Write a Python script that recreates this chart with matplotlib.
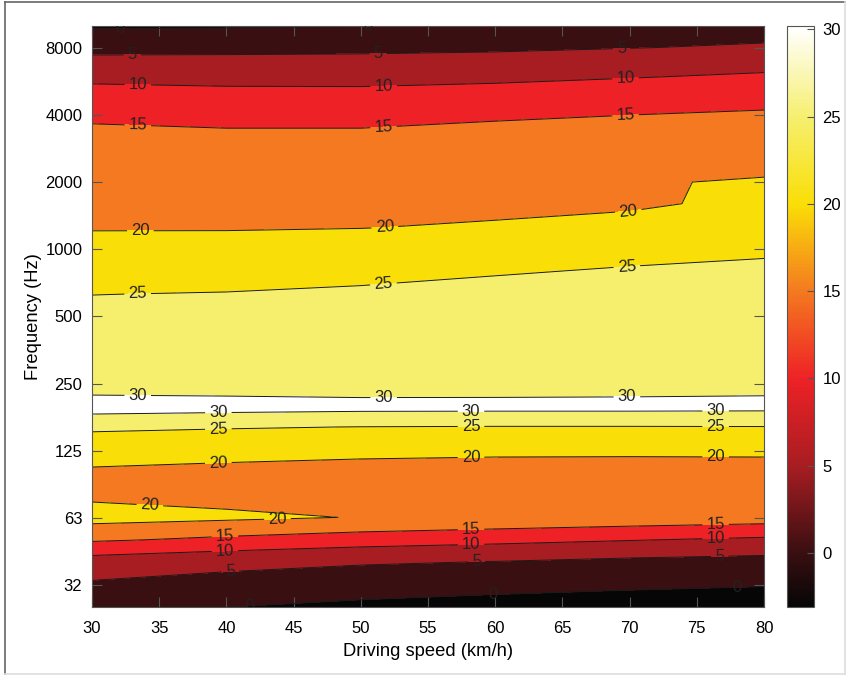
import numpy as np
import matplotlib
matplotlib.use("Agg")
import matplotlib.pyplot as plt
from matplotlib.colors import LinearSegmentedColormap, Normalize
from matplotlib.cm import ScalarMappable
from matplotlib.lines import Line2D

plt.rcParams['font.family'] = ['Liberation Sans', 'DejaVu Sans']

# driving speed (km/h) columns
speeds = [30, 40, 50, 60, 70, 80]
# 1/3-octave band centres (Hz), top to bottom
freqs = [10000, 8000, 6300, 5000, 4000, 3150, 2500, 2000, 1600, 1250, 1000,
         800, 630, 500, 400, 315, 250, 200, 160, 125, 100, 80, 63, 50, 40,
         31.5, 25]

# level (dB) per band, one row per band, one value per speed
z_10000 = [-0.65, -0.43, -0.1, 0.6, 1.2, 3.38]
z_8000 = [4.03, 3.79, 4.04, 4.29, 4.91, 5.4]
z_6300 = [6.85, 7.5, 7.32, 7.8, 8.0, 9.82]
z_5000 = [12.0, 11.0, 11.0, 11.56, 13.6, 11.86]
z_4000 = [14.08, 13.47, 13.47, 14.2, 14.97, 15.8]
z_3150 = [16.3, 16.0, 16.0, 16.9, 17.0, 17.2]
z_2500 = [17.5, 16.8, 16.9, 17.3, 18.4, 18.47]
z_2000 = [18.3, 17.7, 17.9, 17.9, 19.65, 20.4]
z_1600 = [19.0, 18.6, 18.9, 18.48, 19.17, 21.3]
z_1250 = [19.6, 19.5, 19.9, 20.6, 21.6, 22.0]
z_1000 = [22.08, 22.8, 22.5, 22.8, 23.0, 23.5]
z_800 = [23.5, 23.2, 24.0, 24.5, 25.48, 26.82]
z_630 = [24.95, 25.16, 25.51, 26.66, 26.2, 27.0]
z_500 = [25.97, 25.5, 25.8, 26.5, 26.6, 27.2]
z_400 = [26.2, 25.9, 25.9, 26.3, 26.6, 27.3]
z_315 = [26.3, 26.1, 25.9, 26.1, 26.4, 27.3]
z_250 = [26.1, 26.13, 25.67, 25.89, 26.29, 27.25]
z_200 = [33.15, 32.59, 32.17, 32.13, 32.13, 31.95]
z_160 = [25.8, 25.3, 24.93, 24.8, 24.8, 24.87]
z_125 = [22.18, 21.83, 21.3, 21.0, 20.9, 21.0]
z_100 = [19.33, 18.6, 18.02, 17.71, 17.75, 17.71]
z_80 = [18.88, 17.94, 18.5, 18.0, 17.9, 17.5]
z_63 = [21.95, 20.99, 19.8, 19.37, 18.45, 17.59]
z_50 = [15.63, 14.04, 12.68, 11.35, 10.23, 9.17]
z_40 = [8.1, 6.61, 5.13, 4.99, 4.13, 3.59]
z_31 = [4.4, 3.23, 4.39, 2.5, 1.0, 0.34]
z_25 = [1.2, 0.05, -1.88, -2.83, -2.73, -3.13]

levels = [0, 5, 10, 15, 20, 25, 30]
ytick_pos = [31.25, 62.5, 125, 250, 500, 1000, 2000, 4000, 8000]
ytick_lab = ['32', '63', '125', '250', '500', '1000', '2000', '4000', '8000']
xticks = [30, 35, 40, 45, 50, 55, 60, 65, 70, 75, 80]
cbar_ticks = [0, 5, 10, 15, 20, 25, 30]

Z = np.array([z_10000, z_8000, z_6300, z_5000, z_4000, z_3150, z_2500,
              z_2000, z_1600, z_1250, z_1000, z_800, z_630, z_500, z_400,
              z_315, z_250, z_200, z_160, z_125, z_100, z_80, z_63, z_50,
              z_40, z_31, z_25])
X, Y = np.meshgrid(speeds, freqs)

# printed "hot" colours for each band
fill_colors = ['#060606', '#3a0f11', '#a81d22', '#ee2226', '#f47920',
               '#fade07', '#f6ef6e', '#ffffff']
vmin, vmax = -3.1, 30.2
anchors = [-3.1, 0, 5, 10, 15, 20, 25, 30.2]
cmap = LinearSegmentedColormap.from_list(
    'printhot', [((a - vmin) / (vmax - vmin), c) for a, c in zip(anchors, fill_colors)])

fig = plt.figure(figsize=(8.47, 6.76), dpi=100)
ax = fig.add_axes([92/847, 1 - 607/676, 672/847, 581/676])

fill_levels = [Z.min() - 1] + levels + [Z.max() + 1]
ax.contourf(X, Y, Z, levels=fill_levels, colors=fill_colors)
cs = ax.contour(X, Y, Z, levels=levels, colors='#1a1a1a', linewidths=0.7)

label_pos = [(32.1, 9730), (50.5, 9950),
             (33.0, 7370), (51.3, 7400), (69.4, 8000),
             (33.4, 5300), (51.7, 5300), (69.7, 5760),
             (33.4, 3440), (51.7, 3440), (69.7, 3935),
             (33.6, 1181), (51.8, 1231), (69.9, 1497),
             (33.4, 618), (51.7, 678), (69.8, 824),
             (33.4, 219), (51.7, 218), (69.8, 218),
             (39.4, 188), (58.2, 188), (76.4, 188),
             (39.4, 159), (58.2, 161), (76.4, 161),
             (39.4, 111), (58.2, 117), (76.4, 117),
             (34.3, 70.6), (43.8, 61.7),
             (39.9, 51.3), (58.2, 55.7), (76.4, 58),
             (39.9, 44.4), (58.2, 47.7), (76.4, 50.3),
             (40.3, 36.2), (58.6, 40.1), (76.7, 42.2),
             (41.7, 25.8), (59.8, 27.9), (78.0, 30.1)]
ax.set_yscale('log', base=2)
ax.set_xlim(30, 80)
ax.set_ylim(25, 10000)
ax.clabel(cs, levels, manual=label_pos, inline=True, inline_spacing=4,
          fontsize=12, colors='#222222', fmt='%d')

ax.set_yticks(ytick_pos)
ax.set_yticklabels(ytick_lab)
ax.yaxis.set_minor_locator(matplotlib.ticker.NullLocator())
ax.set_xticks(xticks)
ax.tick_params(direction='in', length=7, top=True, right=True, color='#555555',
               labelsize=12, pad=7)
ax.tick_params(axis='x', pad=10)
for s in ax.spines.values():
    s.set_color('#555555')
ax.set_xlabel('Driving speed (km/h)', fontsize=13.2, labelpad=5)
ax.set_ylabel('Frequency (Hz)', fontsize=13.2, labelpad=2.5)

cax = fig.add_axes([787/847, 1 - 607/676, 27/847, 581/676])
cb = fig.colorbar(ScalarMappable(Normalize(vmin, vmax), cmap), cax=cax,
                  ticks=cbar_ticks)
cb.outline.set_edgecolor('#555555')
cax.tick_params(direction='in', length=5, color='#555555', labelsize=12, pad=6)

# outer frame of the figure
fig.add_artist(Line2D([5/847, 5/847], [2/676, 1 - 2/676], color='#666666', lw=1.2))
fig.add_artist(Line2D([5/847, 845/847], [1 - 2/676, 1 - 2/676], color='#666666', lw=1.2))
fig.add_artist(Line2D([5/847, 845/847], [2/676, 2/676], color='#dddddd', lw=1.2))
fig.add_artist(Line2D([845/847, 845/847], [2/676, 1 - 2/676], color='#dddddd', lw=1.2))

fig.savefig('out.png', dpi=100)
